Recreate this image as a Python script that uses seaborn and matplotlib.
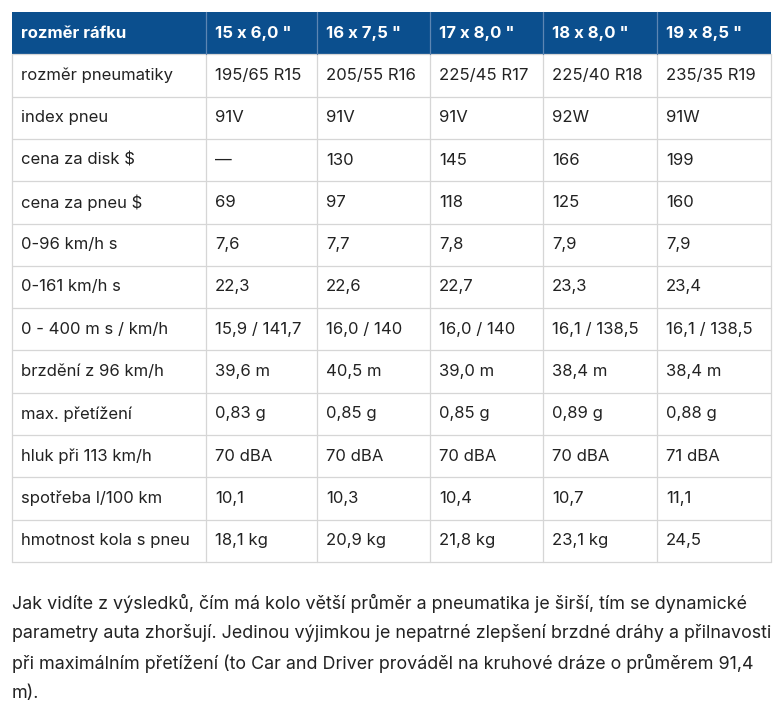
import matplotlib
matplotlib.use("Agg")
import matplotlib.pyplot as plt
from matplotlib.patches import Rectangle
import seaborn as sns

sns.set_theme(style="white")
plt.rcParams["font.family"] = ["Inter", "DejaVu Sans"]

# ------------------------------------------------------------
# data
# ------------------------------------------------------------
header = ["rozměr ráfku", "15 x 6,0 \"", "16 x 7,5 \"", "17 x 8,0 \"", "18 x 8,0 \"", "19 x 8,5 \""]
row_labels = ["rozměr pneumatiky", "index pneu", "cena za disk $", "cena za pneu $",
              "0-96 km/h s", "0-161 km/h s", "0 - 400 m s / km/h", "brzdění z 96 km/h",
              "max. přetížení", "hluk při 113 km/h", "spotřeba l/100 km", "hmotnost kola s pneu"]
col_15 = ["195/65 R15", "91V", "—", "69", "7,6", "22,3", "15,9 / 141,7", "39,6 m", "0,83 g", "70 dBA", "10,1", "18,1 kg"]
col_16 = ["205/55 R16", "91V", "130", "97", "7,7", "22,6", "16,0 / 140", "40,5 m", "0,85 g", "70 dBA", "10,3", "20,9 kg"]
col_17 = ["225/45 R17", "91V", "145", "118", "7,8", "22,7", "16,0 / 140", "39,0 m", "0,85 g", "70 dBA", "10,4", "21,8 kg"]
col_18 = ["225/40 R18", "92W", "166", "125", "7,9", "23,3", "16,1 / 138,5", "38,4 m", "0,89 g", "70 dBA", "10,7", "23,1 kg"]
col_19 = ["235/35 R19", "91W", "199", "160", "7,9", "23,4", "16,1 / 138,5", "38,4 m", "0,88 g", "71 dBA", "11,1", "24,5"]
paragraph = [
    "Jak vidíte z výsledků, čím má kolo větší průměr a pneumatika je širší, tím se dynamické",
    "parametry auta zhoršují. Jedinou výjimkou je nepatrné zlepšení brzdné dráhy a přilnavosti",
    "při maximálním přetížení (to Car and Driver prováděl na kruhové dráze o průměrem 91,4",
    "m).",
]

columns = [row_labels, col_15, col_16, col_17, col_18, col_19]

# ------------------------------------------------------------
# layout (pixel coordinates)
# ------------------------------------------------------------
col_edges = [12, 206, 317, 430, 543, 657, 771]
top, row_h = 12, 42.3
blue = "#0b4f8e"
grid = "#d6d6d6"

fig = plt.figure(figsize=(7.77, 7.13), dpi=100)
ax = fig.add_axes([0, 0, 1, 1])
ax.set_xlim(0, 777)
ax.set_ylim(713, 0)
ax.axis("off")

n_rows = len(row_labels) + 1
ax.add_patch(Rectangle((col_edges[0], top), col_edges[-1] - col_edges[0], row_h, color=blue, lw=0))
for j, h in enumerate(header):
    ax.text(col_edges[j] + 9, top + row_h / 2, h, color="white", fontsize=12,
            fontweight="bold", va="center", ha="left")

for i in range(len(row_labels)):
    y = top + row_h * (i + 1)
    for j, col in enumerate(columns):
        ax.text(col_edges[j] + 9, y + row_h / 2, col[i], color="#222222", fontsize=12,
                va="center", ha="left")

bottom = top + row_h * n_rows
for k in range(1, n_rows + 1):
    ax.plot([col_edges[0], col_edges[-1]], [top + row_h * k] * 2, color=grid, lw=0.9)
for j, x in enumerate(col_edges):
    ax.plot([x, x], [top + row_h, bottom], color=grid, lw=0.9)
    if 0 < j < len(col_edges) - 1:
        ax.plot([x, x], [top, top + row_h], color="#5d86b3", lw=0.9)

for i, line in enumerate(paragraph):
    ax.text(12, 603 + 30 * i, line, color="#222222", fontsize=12.9, va="center", ha="left")

fig.savefig("out.png", dpi=100)
